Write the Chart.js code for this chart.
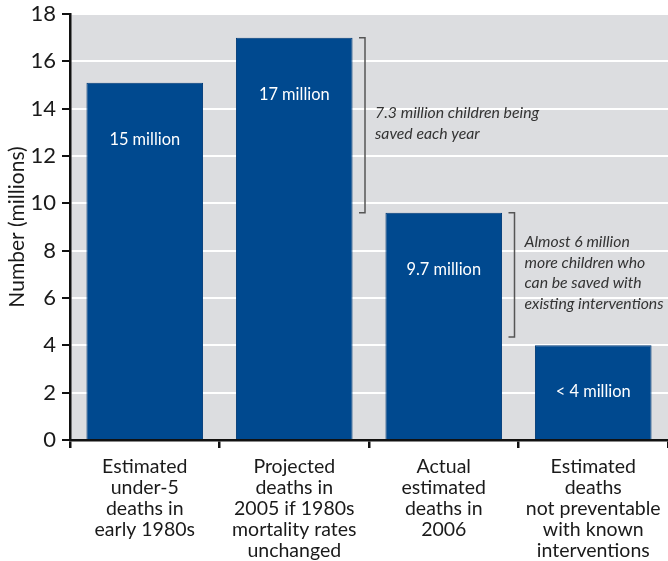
<!DOCTYPE html>
<html>
<head>
<meta charset="utf-8">
<script src="https://cdn.jsdelivr.net/npm/chart.js@4.4.1/dist/chart.umd.min.js"></script>
<style>
  body { margin: 0; background: #fff; }
  canvas { display: block; }
</style>
</head>
<body>
<canvas id="chart" width="668" height="561"></canvas>
<script>
// Data
const categories = [
  ["Estimated", "under-5", "deaths in", "early 1980s"],
  ["Projected", "deaths in", "2005 if 1980s", "mortality rates", "unchanged"],
  ["Actual", "estimated", "deaths in", "2006"],
  ["Estimated", "deaths", "not preventable", "with known", "interventions"]
]
const deaths = [15.1, 17, 9.6, 4]
const barLabels = ["15 million", "17 million", "9.7 million", "< 4 million"]
const yTicks = [0, 2, 4, 6, 8, 10, 12, 14, 16, 18]

// brackets: span between two values, sitting just left of a category boundary
const bracketRanges = [[17, 9.6], [9.6, 4.35]]
const bracketAfter = [1, 2] // index of the category the bracket follows
const bracketNotes = [
  ["7.3 million children being", "saved each year"],
  ["Almost 6 million", "more children who", "can be saved with", "existing interventions"]
]

const FONT = "Lato, 'Open Sans', sans-serif"

const plotBackground = {
  id: "plotBackground",
  beforeDraw(chart) {
    const { ctx, chartArea: a } = chart
    ctx.save()
    ctx.fillStyle = "#dcdde0"
    ctx.fillRect(a.left, a.top, a.right - a.left, a.bottom - a.top)
    ctx.restore()
  }
}

const annotations = {
  id: "annotations",
  afterDatasetsDraw(chart) {
    const { ctx, scales } = chart
    const y = scales.y
    const meta = chart.getDatasetMeta(0)
    ctx.save()

    // white value labels inside bars
    ctx.fillStyle = "#ffffff"
    ctx.font = "16.4px " + FONT
    ctx.textAlign = "center"
    ctx.textBaseline = "middle"
    meta.data.forEach((bar, i) => {
      const mid = (bar.y + bar.base) / 2
      ctx.fillText(barLabels[i], bar.x, Math.min(bar.y + 57, mid))
    })

    // brackets with notes
    bracketRanges.forEach(([from, to], i) => {
      const bar = meta.data[bracketAfter[i]]
      const next = meta.data[bracketAfter[i] + 1]
      const boundary = (bar.x + next.x) / 2
      const bx = boundary - 4
      const y1 = y.getPixelForValue(from)
      const y2 = y.getPixelForValue(to)
      ctx.strokeStyle = "#555"
      ctx.lineWidth = 1.5
      ctx.beginPath()
      ctx.moveTo(bx - 6, y1)
      ctx.lineTo(bx, y1)
      ctx.lineTo(bx, y2)
      ctx.lineTo(bx - 6, y2)
      ctx.stroke()

      const lines = bracketNotes[i]
      const lh = 20.8
      const cy = (y1 + y2) / 2 - 2
      ctx.fillStyle = "#333"
      ctx.font = "italic 15.8px " + FONT
      ctx.textAlign = "left"
      lines.forEach((t, k) => {
        ctx.fillText(t, bx + 10, cy + (k - (lines.length - 1) / 2) * lh)
      })
    })
    ctx.restore()
  }
}

new Chart(document.getElementById("chart"), {
  type: "bar",
  data: {
    labels: categories,
    datasets: [{
      data: deaths,
      backgroundColor: "#00498f",
      borderColor: "#003b78",
      borderWidth: 1,
      categoryPercentage: 1,
      barPercentage: 0.78
    }]
  },
  options: {
    responsive: false,
    animation: false,
    layout: { padding: { top: 14, right: 0, left: 0, bottom: 0 } },
    plugins: {
      legend: { display: false },
      tooltip: { enabled: false }
    },
    scales: {
      x: {
        offset: true,
        grid: {
          offset: true,
          drawOnChartArea: false,
          drawTicks: true,
          tickLength: 8,
          tickColor: "#111",
          lineWidth: 2.5
        },
        border: { color: "#111", width: 2.5 },
        ticks: {
          color: "#1a1a1a",
          padding: 8,
          maxRotation: 0,
          autoSkip: false,
          font: { family: FONT, size: 19.5, lineHeight: 1.08 }
        },
        afterFit(scale) {
          scale.height = 121
          scale.paddingLeft = 0
          scale.paddingRight = 0
        }
      },
      y: {
        min: 0,
        max: 18,
        afterBuildTicks(scale) { scale.ticks = yTicks.map(v => ({ value: v })) },
        grid: {
          color: "#ffffff",
          lineWidth: 2,
          drawTicks: true,
          tickLength: 8,
          tickColor: "#111"
        },
        border: { color: "#111", width: 2.5 },
        ticks: {
          color: "#1a1a1a",
          padding: 6,
          font: { family: FONT, size: 22, lineHeight: 1.2 }
        },
        title: {
          display: true,
          text: "Number (millions)",
          color: "#1a1a1a",
          padding: { top: 5, bottom: 1 },
          font: { family: FONT, size: 21 }
        },
        afterFit(scale) {
          scale.width = 70
          scale.paddingTop = 0
          scale.paddingBottom = 0
        }
      }
    }
  },
  plugins: [plotBackground, annotations]
})
</script>
</body>
</html>
